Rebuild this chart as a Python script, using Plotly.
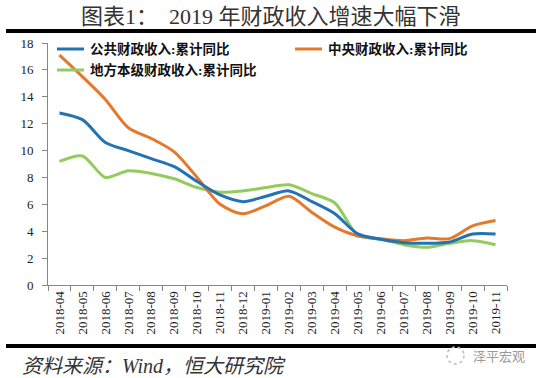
import plotly.graph_objects as go

months = ["2018-04", "2018-05", "2018-06", "2018-07", "2018-08", "2018-09", "2018-10",
          "2018-11", "2018-12", "2019-01", "2019-02", "2019-03", "2019-04", "2019-05",
          "2019-06", "2019-07", "2019-08", "2019-09", "2019-10", "2019-11"]
public_rev = [12.8, 12.3, 10.6, 10.0, 9.4, 8.8, 7.7, 6.7, 6.2, 6.6, 7.0, 6.2, 5.3, 3.8,
              3.4, 3.15, 3.1, 3.2, 3.8, 3.8]
central_rev = [17.1, 15.5, 13.8, 11.7, 10.9, 9.9, 8.0, 6.0, 5.3, 5.9, 6.6, 5.4, 4.3, 3.65,
               3.45, 3.3, 3.5, 3.45, 4.4, 4.8]
local_rev = [9.2, 9.6, 8.0, 8.5, 8.3, 7.9, 7.25, 6.9, 7.0, 7.25, 7.45, 6.8, 6.1, 3.7,
             3.4, 3.0, 2.8, 3.1, 3.3, 3.0]

names = ["公共财政收入:累计同比", "中央财政收入:累计同比", "地方本级财政收入:累计同比"]
colors = ["#2272B4", "#E4792A", "#92CC5C"]
series = [public_rev, central_rev, local_rev]

serif = "Liberation Serif, Times New Roman, Noto Sans CJK SC, serif"

# plot area in pixels: x 48..507, y 43..285
PL, PR, PT, PB = 48, 507, 43, 285
PW, PH = PR - PL, PB - PT


def px(x):
    return (x - PL) / PW


def py(y):
    return (PB - y) / PH


fig = go.Figure()
for idx in [2, 1, 0]:
    fig.add_trace(go.Scatter(
        x=months, y=series[idx], mode="lines", name=names[idx],
        line=dict(color=colors[idx], width=3, shape="spline", smoothing=0.8),
        showlegend=False))

fig.update_layout(
    width=541, height=378,
    margin=dict(l=PL, r=541 - PR, t=PT, b=378 - PB),
    paper_bgcolor="white", plot_bgcolor="white",
    font=dict(family=serif, color="#222222"),
    xaxis=dict(type="category", range=[-0.5, 19.5], tickangle=-90,
               tickson="boundaries", ticks="outside", ticklen=5, tickcolor="#868686",
               showline=True, linecolor="#868686", linewidth=1, showgrid=False,
               automargin=False,
               tickfont=dict(size=13, family=serif, color="#222222")),
    yaxis=dict(range=[0, 18], dtick=2, ticks="outside", ticklen=5, tickcolor="#868686",
               showline=True, linecolor="#868686", linewidth=1, showgrid=False,
               zeroline=False, automargin=False, ticklabelstandoff=6,
               tickfont=dict(size=13, family=serif, color="#222222")),
)

# title and rules
fig.add_annotation(text="图表1：  2019 年财政收入增速大幅下滑", xref="paper", yref="paper",
                   x=px(271), y=py(17), xanchor="center", yanchor="middle",
                   showarrow=False, font=dict(size=22, family=serif, color="#333333"))
fig.add_shape(type="line", xref="paper", yref="paper",
              x0=px(6), x1=px(536), y0=py(31), y1=py(31),
              line=dict(color="black", width=4))
fig.add_shape(type="line", xref="paper", yref="paper",
              x0=px(6), x1=px(536), y0=py(346), y1=py(346),
              line=dict(color="black", width=4))

# custom legend
legend_pos = [(57, 49), (295, 49), (57, 70)]
for i, (lx, ly) in enumerate(legend_pos):
    fig.add_shape(type="line", xref="paper", yref="paper",
                  x0=px(lx), x1=px(lx + 27), y0=py(ly), y1=py(ly),
                  line=dict(color=colors[i], width=3))
    fig.add_annotation(text="<b>" + names[i] + "</b>", xref="paper", yref="paper",
                       x=px(lx + 31), y=py(ly), xanchor="left", yanchor="middle",
                       showarrow=False, font=dict(size=13.5, family=serif, color="#111111"))

# source and watermark
fig.add_annotation(text="<i>资料来源：Wind，恒大研究院</i>", xref="paper", yref="paper",
                   x=px(20), y=py(366), xanchor="left", yanchor="middle",
                   showarrow=False, font=dict(size=20, family=serif, color="#333333"))
fig.add_shape(type="circle", xref="paper", yref="paper",
              x0=px(447), x1=px(464), y0=py(347), y1=py(364),
              line=dict(color="#BBBBBB", width=1.5, dash="dot"))
fig.add_annotation(text="泽平宏观", xref="paper", yref="paper",
                   x=px(527), y=py(355), xanchor="right", yanchor="middle",
                   showarrow=False, font=dict(size=13, family="Noto Sans CJK SC", color="#9A9A9A"))

fig.write_html("out.html", config={"displayModeBar": False},
               post_script="document.body.style.margin='0';")
